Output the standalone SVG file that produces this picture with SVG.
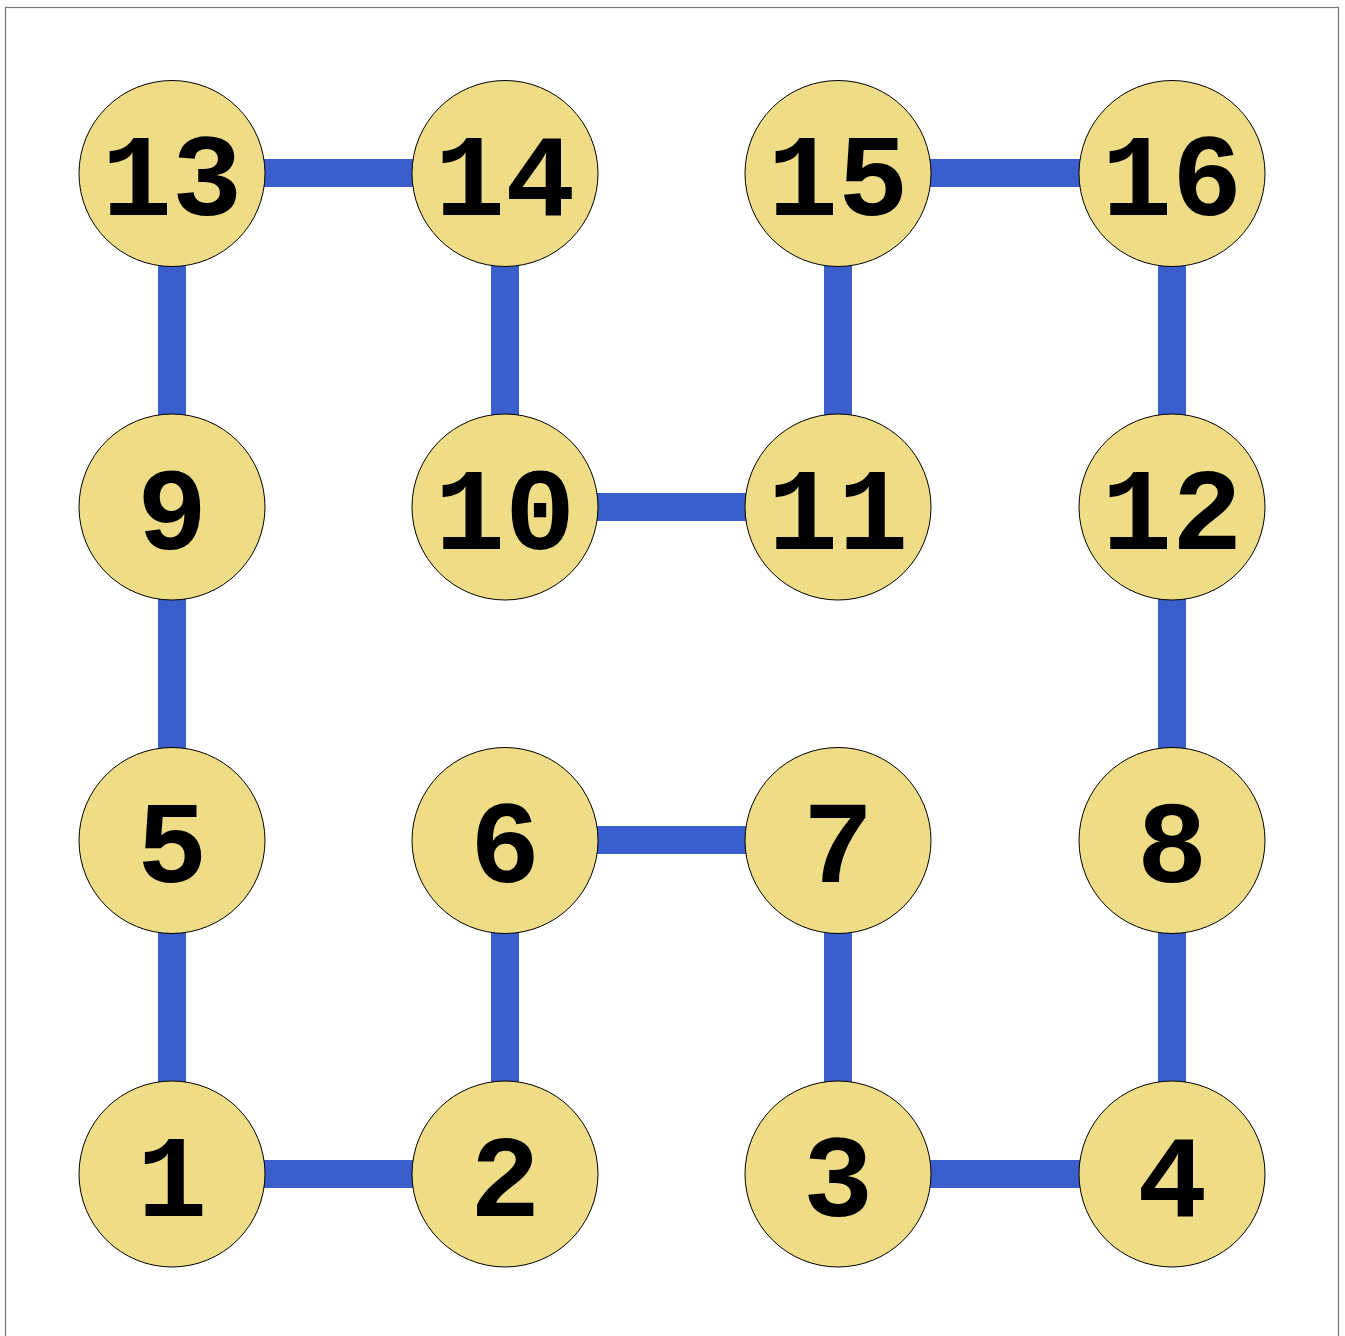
<svg xmlns="http://www.w3.org/2000/svg" width="1345" height="1336" viewBox="0 0 1345 1336">
<style>
.e{stroke:#3a5fcd;stroke-width:28;fill:none}
.n circle{fill:#eedd86;stroke:#000;stroke-width:1}
.n text{font-family:"Liberation Mono",monospace;font-weight:bold;font-size:117px;text-anchor:middle;fill:#000}
</style>
<rect x="0" y="0" width="1345" height="1336" fill="#fff"/>
<rect x="5.5" y="7.5" width="1333" height="1340" fill="none" stroke="#777" stroke-width="1.2"/>
<g id="edges">
<line class="e" x1="172" y1="173" x2="505" y2="173"/>
<line class="e" x1="838" y1="173" x2="1172" y2="173"/>
<line class="e" x1="172" y1="173" x2="172" y2="507"/>
<line class="e" x1="505" y1="173" x2="505" y2="507"/>
<line class="e" x1="838" y1="173" x2="838" y2="507"/>
<line class="e" x1="1172" y1="173" x2="1172" y2="507"/>
<line class="e" x1="505" y1="507" x2="838" y2="507"/>
<line class="e" x1="172" y1="507" x2="172" y2="840"/>
<line class="e" x1="1172" y1="507" x2="1172" y2="840"/>
<line class="e" x1="505" y1="840" x2="838" y2="840"/>
<line class="e" x1="172" y1="840" x2="172" y2="1174"/>
<line class="e" x1="505" y1="840" x2="505" y2="1174"/>
<line class="e" x1="838" y1="840" x2="838" y2="1174"/>
<line class="e" x1="1172" y1="840" x2="1172" y2="1174"/>
<line class="e" x1="172" y1="1174" x2="505" y2="1174"/>
<line class="e" x1="838" y1="1174" x2="1172" y2="1174"/>
</g>
<g id="n13" class="n"><circle cx="172" cy="173.5" r="93"/><text x="172" y="215">13</text></g>
<g id="n14" class="n"><circle cx="505" cy="173.5" r="93"/><text x="505" y="215">14</text></g>
<g id="n15" class="n"><circle cx="838" cy="173.5" r="93"/><text x="838" y="215">15</text></g>
<g id="n16" class="n"><circle cx="1172" cy="173.5" r="93"/><text x="1172" y="215">16</text></g>
<g id="n9" class="n"><circle cx="172" cy="507" r="93"/><text x="172" y="548.5">9</text></g>
<g id="n10" class="n"><circle cx="505" cy="507" r="93"/><text x="505" y="548.5">10</text></g>
<g id="n11" class="n"><circle cx="838" cy="507" r="93"/><text x="838" y="548.5">11</text></g>
<g id="n12" class="n"><circle cx="1172" cy="507" r="93"/><text x="1172" y="548.5">12</text></g>
<g id="n5" class="n"><circle cx="172" cy="840.5" r="93"/><text x="172" y="882">5</text></g>
<g id="n6" class="n"><circle cx="505" cy="840.5" r="93"/><text x="505" y="882">6</text></g>
<g id="n7" class="n"><circle cx="838" cy="840.5" r="93"/><text x="838" y="882">7</text></g>
<g id="n8" class="n"><circle cx="1172" cy="840.5" r="93"/><text x="1172" y="882">8</text></g>
<g id="n1" class="n"><circle cx="172" cy="1174" r="93"/><text x="172" y="1215.5">1</text></g>
<g id="n2" class="n"><circle cx="505" cy="1174" r="93"/><text x="505" y="1215.5">2</text></g>
<g id="n3" class="n"><circle cx="838" cy="1174" r="93"/><text x="838" y="1215.5">3</text></g>
<g id="n4" class="n"><circle cx="1172" cy="1174" r="93"/><text x="1172" y="1215.5">4</text></g>
</svg>
